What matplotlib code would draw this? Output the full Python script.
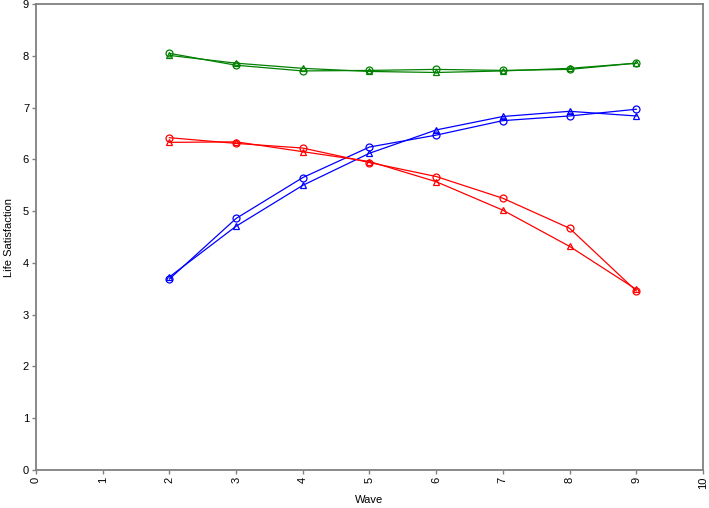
import matplotlib.pyplot as plt

plt.rcParams['font.family'] = ['Liberation Sans', 'DejaVu Sans']

waves = [2, 3, 4, 5, 6, 7, 8, 9]

green_circle = [8.05, 7.82, 7.71, 7.72, 7.74, 7.72, 7.74, 7.86]
green_tri = [8.01, 7.86, 7.76, 7.70, 7.68, 7.71, 7.76, 7.86]
blue_circle = [3.69, 4.86, 5.65, 6.24, 6.47, 6.75, 6.84, 6.97]
blue_tri = [3.73, 4.71, 5.50, 6.12, 6.57, 6.83, 6.93, 6.84]
red_circle = [6.42, 6.31, 6.22, 5.94, 5.67, 5.25, 4.67, 3.46]
red_tri = [6.33, 6.34, 6.15, 5.96, 5.57, 5.02, 4.32, 3.49]

fig = plt.figure(figsize=(7.09, 5.08), dpi=100)
ax = fig.add_axes([0.0508, 0.0748, 0.9407, 0.917])

series = [
    (green_circle, '#008000', 'o'),
    (green_tri, '#008000', '^'),
    (blue_circle, '#0000ff', 'o'),
    (blue_tri, '#0000ff', '^'),
    (red_circle, '#ff0000', 'o'),
    (red_tri, '#ff0000', '^'),
]
for vals, col, mk in series:
    ax.plot(waves, vals, color=col, marker=mk, markersize=5, markerfacecolor='none',
            markeredgecolor=col, markeredgewidth=0.9, linewidth=0.9)

ax.set_xlim(0, 10)
ax.set_ylim(0, 9)
ax.set_xticks(range(0, 11))
ax.set_yticks(range(0, 10))
ax.tick_params(axis='x', labelrotation=90, length=3, width=1, colors='#808080', labelcolor='black', labelsize=8, pad=2)
ax.tick_params(axis='y', length=3, width=1, colors='#808080', labelcolor='black', labelsize=8, pad=2)
for s in ax.spines.values():
    s.set_color('#808080')
    s.set_linewidth(1.3)

ax.set_xlabel('Wave', fontsize=8, labelpad=4)
ax.set_ylabel('Life Satisfaction', fontsize=8, labelpad=6)

fig.savefig('out.png', dpi=100)
